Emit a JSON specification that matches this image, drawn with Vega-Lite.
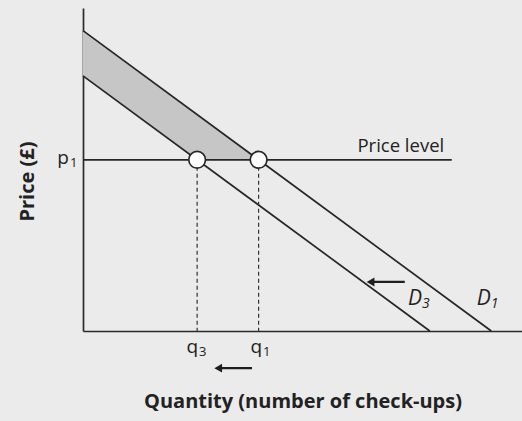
{
  "$schema": "https://vega.github.io/schema/vega-lite/v6.json",
  "width": 439,
  "height": 323,
  "autosize": {"type": "none"},
  "padding": {"left": 83, "top": 8, "right": 0, "bottom": 90},
  "background": "#ebebeb",
  "config": {
    "view": {"stroke": null},
    "font": "Open Sans",
    "axis": {
      "domainColor": "#2a2a2a",
      "domainWidth": 1.7,
      "ticks": false,
      "labels": false,
      "grid": false,
      "titleFont": "Open Sans",
      "titleFontWeight": "bold",
      "titleFontSize": 20,
      "titleColor": "#222222"
    }
  },
  "datasets": {
    "shade": [
      {"q": 0, "top": 93, "bottom": 79},
      {"q": 26, "top": 67, "bottom": 53},
      {"q": 40, "top": 53, "bottom": 53}
    ],
    "curves": [
      {"name": "D1", "q0": 0, "p0": 93, "q1": 93, "p1": 0},
      {"name": "D3", "q0": 0, "p0": 79, "q1": 79, "p1": 0},
      {"name": "Price level", "q0": 0, "p0": 53, "q1": 84, "p1": 53}
    ],
    "equilibria": [
      {"name": "q3", "q": 26, "p": 53},
      {"name": "q1", "q": 40, "p": 53}
    ],
    "arrows": [
      {"from": 38.5, "to": 30.8, "p": -11.5},
      {"from": 73.3, "to": 65.5, "p": 15.2}
    ],
    "uprightLabels": [
      {"main": "p", "sub": "1", "q": -3.2, "p": 53.5},
      {"main": "q", "sub": "3", "q": 26.2, "p": -5},
      {"main": "q", "sub": "1", "q": 40.8, "p": -5}
    ],
    "curveLabels": [
      {"main": "D", "sub": "3", "q": 77.2, "p": 9.8},
      {"main": "D", "sub": "1", "q": 92.9, "p": 9.8}
    ],
    "notes": [
      {"text": "Price level", "q": 72.4, "p": 57.3}
    ]
  },
  "layer": [
    {
      "data": {"name": "shade"},
      "mark": {"type": "area", "color": "#c6c6c6", "opacity": 1},
      "encoding": {
        "x": {
          "field": "q", "type": "quantitative",
          "scale": {"domain": [0, 100], "nice": false, "zero": false},
          "axis": {"title": "Quantity (number of check-ups)", "titlePadding": 60}
        },
        "y": {
          "field": "top", "type": "quantitative",
          "scale": {"domain": [0, 100], "nice": false, "zero": false},
          "axis": {"title": "Price (£)", "titlePadding": 46, "titleY": 173}
        },
        "y2": {"field": "bottom"}
      }
    },
    {
      "data": {"name": "curves"},
      "mark": {"type": "rule", "color": "#262626", "strokeWidth": 1.7},
      "encoding": {
        "x": {"field": "q0", "type": "quantitative", "scale": {"domain": [0, 100], "nice": false, "zero": false}},
        "y": {"field": "p0", "type": "quantitative", "scale": {"domain": [0, 100], "nice": false, "zero": false}},
        "x2": {"field": "q1"},
        "y2": {"field": "p1"}
      }
    },
    {
      "data": {"name": "equilibria"},
      "mark": {"type": "rule", "color": "#333333", "strokeWidth": 1.2, "strokeDash": [4, 3]},
      "encoding": {
        "x": {"field": "q", "type": "quantitative", "scale": {"domain": [0, 100], "nice": false, "zero": false}},
        "y": {"field": "p", "type": "quantitative", "scale": {"domain": [0, 100], "nice": false, "zero": false}},
        "y2": {"datum": 0}
      }
    },
    {
      "data": {"name": "arrows"},
      "mark": {"type": "rule", "color": "#1e1e1e", "strokeWidth": 2.2},
      "encoding": {
        "x": {"field": "from", "type": "quantitative", "scale": {"domain": [0, 100], "nice": false, "zero": false}},
        "x2": {"field": "to"},
        "y": {"field": "p", "type": "quantitative", "scale": {"domain": [0, 100], "nice": false, "zero": false}}
      }
    },
    {
      "data": {"name": "arrows"},
      "mark": {"type": "point", "shape": "triangle-left", "filled": true, "color": "#1e1e1e", "size": 80, "opacity": 1},
      "encoding": {
        "x": {"field": "to", "type": "quantitative", "scale": {"domain": [0, 100], "nice": false, "zero": false}},
        "y": {"field": "p", "type": "quantitative", "scale": {"domain": [0, 100], "nice": false, "zero": false}}
      }
    },
    {
      "data": {"name": "equilibria"},
      "mark": {"type": "point", "shape": "circle", "filled": true, "fill": "#ffffff", "stroke": "#262626", "strokeWidth": 1.7, "size": 280, "opacity": 1},
      "encoding": {
        "x": {"field": "q", "type": "quantitative", "scale": {"domain": [0, 100], "nice": false, "zero": false}},
        "y": {"field": "p", "type": "quantitative", "scale": {"domain": [0, 100], "nice": false, "zero": false}}
      }
    },
    {
      "data": {"name": "uprightLabels"},
      "mark": {"type": "text", "align": "right", "baseline": "middle", "fontSize": 19, "color": "#222222", "font": "Open Sans"},
      "encoding": {
        "x": {"field": "q", "type": "quantitative", "scale": {"domain": [0, 100], "nice": false, "zero": false}},
        "y": {"field": "p", "type": "quantitative", "scale": {"domain": [0, 100], "nice": false, "zero": false}},
        "text": {"field": "main"}
      }
    },
    {
      "data": {"name": "uprightLabels"},
      "mark": {"type": "text", "align": "left", "baseline": "middle", "fontSize": 13, "dx": 1, "dy": 5, "color": "#222222", "font": "Open Sans"},
      "encoding": {
        "x": {"field": "q", "type": "quantitative", "scale": {"domain": [0, 100], "nice": false, "zero": false}},
        "y": {"field": "p", "type": "quantitative", "scale": {"domain": [0, 100], "nice": false, "zero": false}},
        "text": {"field": "sub"}
      }
    },
    {
      "data": {"name": "curveLabels"},
      "mark": {"type": "text", "align": "right", "baseline": "middle", "fontSize": 21, "fontStyle": "italic", "color": "#222222", "font": "Open Sans"},
      "encoding": {
        "x": {"field": "q", "type": "quantitative", "scale": {"domain": [0, 100], "nice": false, "zero": false}},
        "y": {"field": "p", "type": "quantitative", "scale": {"domain": [0, 100], "nice": false, "zero": false}},
        "text": {"field": "main"}
      }
    },
    {
      "data": {"name": "curveLabels"},
      "mark": {"type": "text", "align": "left", "baseline": "middle", "fontSize": 14, "fontStyle": "italic", "dx": 0, "dy": 5, "color": "#222222", "font": "Open Sans"},
      "encoding": {
        "x": {"field": "q", "type": "quantitative", "scale": {"domain": [0, 100], "nice": false, "zero": false}},
        "y": {"field": "p", "type": "quantitative", "scale": {"domain": [0, 100], "nice": false, "zero": false}},
        "text": {"field": "sub"}
      }
    },
    {
      "data": {"name": "notes"},
      "mark": {"type": "text", "align": "center", "baseline": "middle", "fontSize": 18.5, "color": "#222222", "font": "Open Sans"},
      "encoding": {
        "x": {"field": "q", "type": "quantitative", "scale": {"domain": [0, 100], "nice": false, "zero": false}},
        "y": {"field": "p", "type": "quantitative", "scale": {"domain": [0, 100], "nice": false, "zero": false}},
        "text": {"field": "text"}
      }
    }
  ]
}
